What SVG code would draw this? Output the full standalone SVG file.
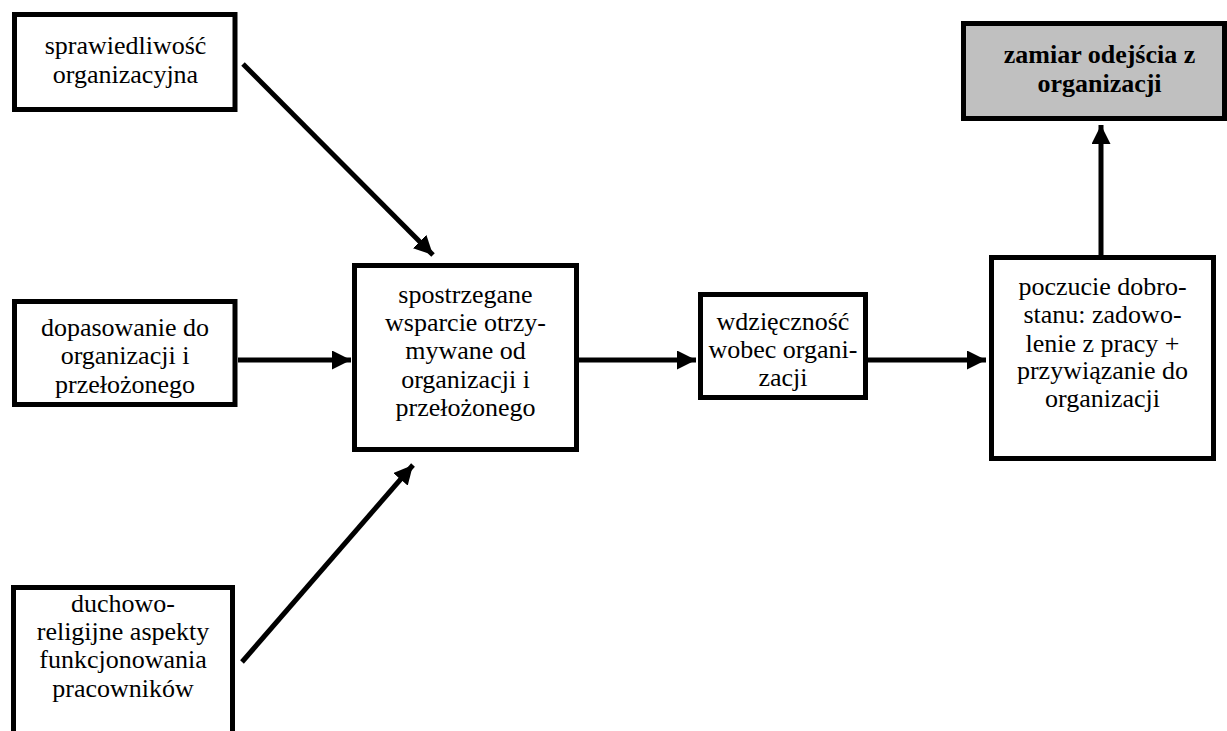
<svg xmlns="http://www.w3.org/2000/svg" width="1227" height="731" viewBox="0 0 1227 731">
  <style>
    .box { fill: #ffffff; stroke: #000000; stroke-width: 5; }
    .hl { fill: #c0c0c0; }
    .edge { stroke: #000000; stroke-width: 5; fill: none; marker-end: url(#head); }
  </style>
  <defs>
    <marker id="head" markerUnits="userSpaceOnUse" markerWidth="20" markerHeight="19" refX="19" refY="9.5" orient="auto">
      <path d="M0,0 L19,9.5 L0,19 z" fill="#000000"/>
    </marker>
  </defs>
  <rect width="1227" height="731" fill="#ffffff"/>

  <!-- arrows between the factors -->
  <g id="connectors">
    <line class="edge" x1="243" y1="64" x2="433" y2="255"/>
    <line class="edge" x1="238" y1="360" x2="351" y2="360"/>
    <line class="edge" x1="242" y1="662" x2="413" y2="465"/>
    <line class="edge" x1="579" y1="360" x2="696" y2="360"/>
    <line class="edge" x1="868" y1="360" x2="986" y2="360"/>
    <line class="edge" x1="1101" y1="257" x2="1101" y2="125"/>
  </g>

  <g font-family="'Liberation Serif', 'Times New Roman', serif" font-size="26" fill="#000000" text-anchor="middle">
    <g id="sprawiedliwosc">
      <rect class="box" x="14.5" y="14.5" width="220.5" height="95"/>
      <text x="125.5" y="54">sprawiedliwość</text>
      <text x="125.5" y="83">organizacyjna</text>
    </g>

    <g id="dopasowanie">
      <rect class="box" x="14.5" y="301.5" width="220.5" height="103"/>
      <text x="125" y="336">dopasowanie do</text>
      <text x="125" y="364">organizacji i</text>
      <text x="125" y="393">przełożonego</text>
    </g>

    <g id="duchowo">
      <rect class="box" x="13.5" y="587.5" width="219" height="200"/>
      <text x="123" y="612">duchowo-</text>
      <text x="123" y="640">religijne aspekty</text>
      <text x="123" y="668">funkcjonowania</text>
      <text x="123" y="697">pracowników</text>
    </g>

    <g id="wsparcie">
      <rect class="box" x="354.5" y="265.5" width="222" height="184"/>
      <text x="465.5" y="303">spostrzegane</text>
      <text x="465.5" y="331">wsparcie otrzy-</text>
      <text x="465.5" y="359">mywane od</text>
      <text x="465.5" y="388">organizacji i</text>
      <text x="465.5" y="416">przełożonego</text>
    </g>

    <g id="wdziecznosc">
      <rect class="box" x="700.5" y="294.5" width="165" height="103"/>
      <text x="783" y="330">wdzięczność</text>
      <text x="783" y="358">wobec organi-</text>
      <text x="783" y="386">zacji</text>
    </g>

    <g id="dobrostan">
      <rect class="box" x="991.5" y="257.5" width="222" height="201"/>
      <text x="1102.5" y="295">poczucie dobro-</text>
      <text x="1102.5" y="323">stanu: zadowo-</text>
      <text x="1102.5" y="352">lenie z pracy +</text>
      <text x="1102.5" y="379">przywiązanie do</text>
      <text x="1102.5" y="407">organizacji</text>
    </g>

    <g id="zamiar" font-weight="bold">
      <rect class="box hl" x="963.5" y="23.5" width="261" height="95"/>
      <text x="1099.5" y="63">zamiar odejścia z</text>
      <text x="1099.5" y="92">organizacji</text>
    </g>
  </g>
</svg>
